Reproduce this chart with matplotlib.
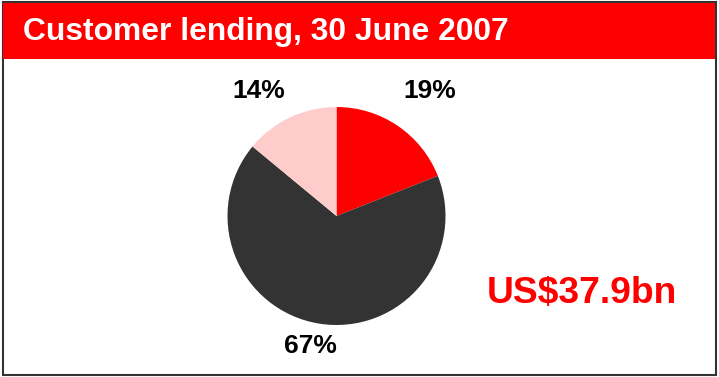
import matplotlib
matplotlib.use("Agg")
import matplotlib.pyplot as plt
from matplotlib.patches import Rectangle

segments = ["Segment A", "Segment B", "Segment C"]
shares = [19, 67, 14]
colors = ["#ff0000", "#333333", "#ffcccc"]
title = "Customer lending, 30 June 2007"
total_label = "US$37.9bn"

W, H = 719, 377
fig = plt.figure(figsize=(W / 100, H / 100), dpi=100)
plt.rcParams["font.family"] = ["Liberation Sans", "DejaVu Sans"]

# frame and title bar (pixel-based overlay axes)
bg = fig.add_axes([0, 0, 1, 1])
bg.set_xlim(0, W)
bg.set_ylim(H, 0)
bg.axis("off")
bg.add_patch(Rectangle((2.5, 1.5), W - 6, H - 3.5, facecolor="white",
                       edgecolor="#333333", linewidth=1.5))
bg.add_patch(Rectangle((3, 2.5), W - 7, 56, facecolor="#ff0000", edgecolor="none"))
bg.text(23, 32, title, color="white", fontsize=22.9, fontweight="bold",
        va="center", ha="left")
bg.text(581.5, 293, total_label, color="#ff0000", fontsize=26.8, fontweight="bold",
        va="center", ha="center")

# pie
cx, cy, r = 336.5, 216, 109
ax = fig.add_axes([(cx - r) / W, 1 - (cy + r) / H, 2 * r / W, 2 * r / H])
ax.pie(shares, colors=colors, startangle=90, counterclock=False,
       wedgeprops=dict(linewidth=0))
ax.set_xlim(-1, 1)
ax.set_ylim(-1, 1)
ax.set_aspect("equal")
ax.axis("off")

label_pos = [(0.86, 1.15), (-0.24, -1.19), (-0.71, 1.15)]
for v, (x, y) in zip(shares, label_pos):
    ax.text(x, y, f"{v}%", fontsize=19, fontweight="bold", color="black",
            ha="center", va="center", clip_on=False)

fig.savefig("out.png", dpi=100)
